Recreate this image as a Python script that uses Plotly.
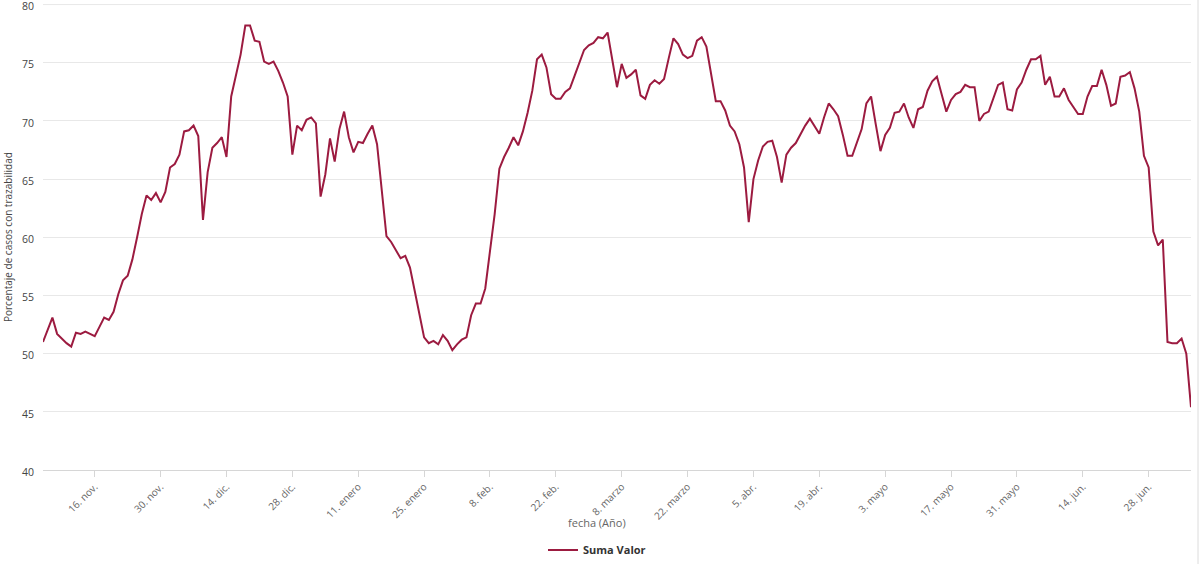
import pandas as pd
import plotly.graph_objects as go

start_date = "2020-11-05"
valores = [
    51.0, 52.0, 53.1, 51.7, 51.3, 50.9, 50.6, 51.8, 51.7, 51.9,
    51.7, 51.5, 52.3, 53.1, 52.9, 53.6, 55.1, 56.3, 56.7, 58.1,
    60.0, 62.0, 63.6, 63.2, 63.8, 63.0, 63.9, 66.0, 66.3, 67.1,
    69.1, 69.2, 69.6, 68.7, 61.5, 65.6, 67.7, 68.1, 68.6, 66.9,
    72.1, 74.0, 75.7,
    78.2, 78.2, 76.9, 76.8, 75.1, 74.9, 75.1, 74.3, 73.3, 72.1,
    67.1, 69.6, 69.2, 70.1, 70.3, 69.8, 63.5, 65.4, 68.5, 66.5,
    69.3, 70.8, 68.6, 67.3, 68.2, 68.1, 68.9, 69.6, 68.0, 64.0,
    60.1, 59.6, 58.9, 58.2, 58.4, 57.4, 55.4, 53.3, 51.4, 50.9,
    51.1, 50.8, 51.6, 51.1, 50.3, 50.8, 51.2, 51.4, 53.3, 54.3,
    54.3, 55.6, 58.6, 62.0, 65.9, 66.9, 67.7, 68.6, 67.9, 69.1,
    70.7, 72.6, 75.3, 75.7, 74.6, 72.3, 71.9, 71.9, 72.5, 72.8,
    73.9, 75.1, 76.1, 76.5, 76.7, 77.2, 77.1, 77.6,
    75.4, 72.9, 74.9, 73.7, 74.0, 74.4, 72.2, 71.9, 73.1, 73.5,
    73.2, 73.6, 75.4, 77.1, 76.6, 75.7, 75.4, 75.6, 76.9, 77.2,
    76.4, 74.0, 71.7, 71.7, 70.9, 69.6, 69.1, 68.0, 66.0, 61.3,
    65.0, 66.6, 67.8, 68.2, 68.3, 66.9, 64.7, 67.1, 67.7, 68.1,
    68.9, 69.6, 70.2,
    69.5, 68.9, 70.3, 71.5, 71.0, 70.4, 68.8, 67.0, 67.0, 68.2,
    69.3, 71.5, 72.1, 69.7, 67.4, 68.8, 69.4, 70.7, 70.8, 71.5,
    70.3, 69.4, 71.0, 71.2, 72.6, 73.4, 73.8, 72.3, 70.8, 71.8,
    72.3, 72.5, 73.1, 72.9, 72.9, 70.0, 70.6, 70.8, 72.0, 73.1,
    73.3, 71.0, 70.9, 72.7, 73.3, 74.4, 75.3, 75.3, 75.6, 73.1,
    73.8, 72.1, 72.1, 72.8, 71.8, 71.2, 70.6, 70.6, 72.1, 73.0,
    73.0, 74.4, 73.1, 71.3, 71.5, 73.8, 73.9, 74.2, 72.8, 70.8,
    67.0, 66.0, 60.5, 59.3, 59.8, 51.0, 50.9, 50.9, 51.3, 50.0,
    45.4,
]
fechas = pd.date_range(start_date, periods=len(valores), freq="D")
fechas_str = [d.strftime("%Y-%m-%d") for d in fechas]

tick_fechas = ["2020-11-16", "2020-11-30", "2020-12-14", "2020-12-28",
               "2021-01-11", "2021-01-25", "2021-02-08", "2021-02-22",
               "2021-03-08", "2021-03-22", "2021-04-05", "2021-04-19",
               "2021-05-03", "2021-05-17", "2021-05-31", "2021-06-14",
               "2021-06-28"]
tick_textos = ["16. nov.", "30. nov.", "14. dic.", "28. dic.", "11. enero",
               "25. enero", "8. feb.", "22. feb.", "8. marzo", "22. marzo",
               "5. abr.", "19. abr.", "3. mayo", "17. mayo", "31. mayo",
               "14. jun.", "28. jun."]
y_ticks = [40, 45, 50, 55, 60, 65, 70, 75, 80]

FONT = "Open Sans, Arial, sans-serif"
LINE_COLOR = "#9c1b40"
PLOT_W = 1148
PLOT_H = 466

fig = go.Figure()
fig.add_trace(go.Scatter(
    x=fechas_str, y=valores, mode="lines", name="<b>Suma Valor</b>",
    line=dict(color=LINE_COLOR, width=2), cliponaxis=False,
))

fig.update_layout(
    width=1200, height=564,
    margin=dict(l=43, r=9, t=4, b=94, autoexpand=False),
    paper_bgcolor="white", plot_bgcolor="white",
    font=dict(family=FONT, size=11, color="#666666"),
    showlegend=True,
    legend=dict(orientation="h", x=(597 - 43) / PLOT_W, xanchor="center",
                y=-80 / PLOT_H, yanchor="middle",
                font=dict(size=11, color="#333333"), itemwidth=30),
    xaxis=dict(
        type="date", automargin=False,
        range=[fechas_str[0], fechas_str[-1]],
        tickvals=tick_fechas, ticktext=tick_textos,
        tickangle=-45, tickfont=dict(size=10, color="#666666"),
        ticks="outside", ticklen=6, tickcolor="#d6d6d6",
        showgrid=False, showline=True, linecolor="#d6d6d6", linewidth=1,
        zeroline=False,
    ),
    yaxis=dict(
        automargin=False,
        range=[40, 80.05], tickvals=y_ticks,
        tickfont=dict(size=10.5, color="#444444"),
        ticklabeloverflow="allow", ticklabelshift=2,
        showgrid=True, gridcolor="#e8e8e8", gridwidth=1,
        zeroline=False, showline=False, ticklabelstandoff=8,
    ),
    annotations=[
        dict(text="fecha (Año)", xref="paper", yref="paper",
             x=(597 - 43) / PLOT_W, y=-52 / PLOT_H, xanchor="center",
             yanchor="middle", showarrow=False,
             font=dict(size=11, color="#666666")),
        dict(text="Porcentaje de casos con trazabilidad", xref="paper",
             yref="paper", x=-35 / PLOT_W, y=0.5, xanchor="center",
             yanchor="middle", textangle=-90, showarrow=False,
             font=dict(size=10, color="#444444")),
    ],
    shapes=[
        dict(type="line", xref="paper", yref="y", layer="below",
             x0=0, x1=1, y0=80, y1=80,
             line=dict(color="#e8e8e8", width=1)),
        dict(type="line", xref="paper", yref="paper",
             x0=(1198 - 43) / PLOT_W, x1=(1198 - 43) / PLOT_W,
             y0=-94 / PLOT_H, y1=1 + 4 / PLOT_H,
             line=dict(color="#dcdcdc", width=1)),
    ],
)

fig.write_html("out.html",
               config={"displayModeBar": False},
               post_script="document.body.style.margin='0';"
                           "document.body.style.overflow='hidden';")
